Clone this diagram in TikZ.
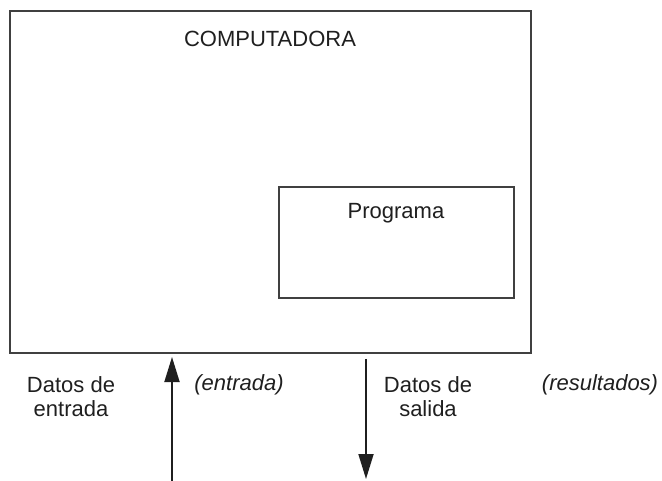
\documentclass[tikz,border=0pt]{standalone}
\usepackage{fontspec}
\setmainfont{Liberation Sans}
\usetikzlibrary{arrows.meta}
\begin{document}
\begin{tikzpicture}[x=1pt,y=-1pt,
  box/.style={draw=black!75,line width=1.2pt},
  lbl/.style={font=\fontsize{22}{24}\selectfont,text=black!88,inner sep=0pt,align=center},
  arr/.style={draw=black!88,line width=1.8pt,-{Triangle[length=25pt,width=15pt]}}]
\useasboundingbox (0,0) rectangle (662,481);
\draw[box] (10,11) rectangle (531,353);
\node[lbl,anchor=base] (comp) at (270,47) {COMPUTADORA};
\draw[box] (279,187) rectangle (514,298);
\node[lbl,anchor=base] (prog) at (396,219) {Programa};
\coordinate (inB) at (172,481);
\coordinate (inT) at (172,357);
\coordinate (outT) at (366,359);
\coordinate (outB) at (366,479);
\draw[arr] (inB) -- (inT);
\draw[arr] (outT) -- (outB);
\node[lbl,anchor=north] (de) at (71,376) {Datos de\\entrada};
\node[lbl,anchor=base] (ent) at (239,390) {\itshape (entrada)};
\node[lbl,anchor=north] (ds) at (428,376) {Datos de\\salida};
\node[lbl,anchor=base] (res) at (600,390) {\itshape (resultados)};
\end{tikzpicture}
\end{document}
